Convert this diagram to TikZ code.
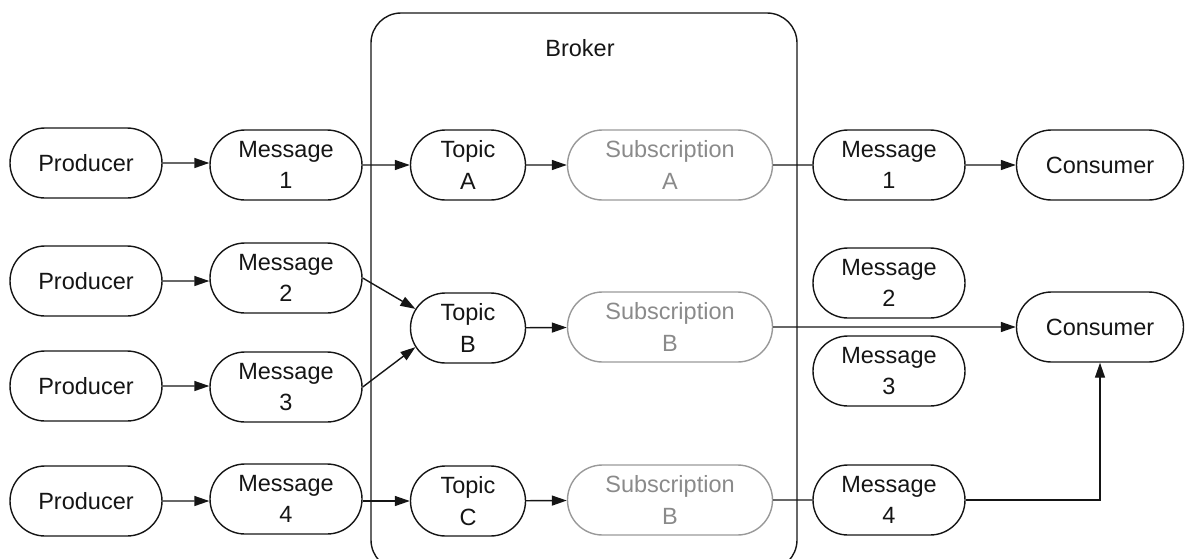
\documentclass[tikz,border=0pt]{standalone}
\usepackage{fontspec}
\setmainfont{Liberation Sans}
\usetikzlibrary{arrows.meta,shapes.misc}
\definecolor{subgray}{HTML}{8A8A8A}
\definecolor{subedge}{HTML}{999999}
\definecolor{ink}{HTML}{151515}
\begin{document}
\begin{tikzpicture}[x=1pt,y=-1pt,
  pill/.style={rounded rectangle, draw=ink, line width=1.4pt, minimum height=70pt, inner sep=0pt,
    align=center, text=ink, font=\fontsize{23.5}{31.5}\selectfont},
  prod/.style={pill, minimum width=152pt},
  msg/.style={pill, minimum width=152pt},
  topic/.style={pill, minimum width=115pt},
  subs/.style={pill, minimum width=205pt, draw=subedge, text=subgray},
  cons/.style={pill, minimum width=167pt},
  arr/.style={draw=ink, line width=1.4pt, -{Triangle[length=15pt,width=10pt]}},
  ln/.style={draw=ink, line width=1.4pt}]
\useasboundingbox (0,0) rectangle (1187,558);
% broker box
\draw[ink, line width=1.4pt, rounded corners=30pt] (371,13) rectangle (797,570);
\node[text=ink, font=\fontsize{23.5}{31.5}\selectfont] (broker) at (580,48) {Broker};
% row 1
\node[prod] (p1) at (86,163) {Producer};
\node[msg] (m1) at (286,165) {Message\\1};
\node[topic] (ta) at (468,165) {Topic\\A};
\node[subs] (sa) at (670,165) {Subscription\\A};
\node[msg] (m1r) at (889,165) {Message\\1};
\node[cons] (c1) at (1100,165) {Consumer};
% row 2/3
\node[prod] (p2) at (86,281) {Producer};
\node[msg] (m2) at (286,278) {Message\\2};
\node[topic] (tb) at (468,328) {Topic\\B};
\node[subs] (sb) at (670,327) {Subscription\\B};
\node[msg] (m2r) at (889,283) {Message\\2};
\node[cons] (c2) at (1100,327) {Consumer};
\node[msg] (m3r) at (889,371) {Message\\3};
\node[prod] (p3) at (86,386) {Producer};
\node[msg] (m3) at (286,387) {Message\\3};
% row 4
\node[prod] (p4) at (86,501) {Producer};
\node[msg] (m4) at (286,499) {Message\\4};
\node[topic] (tc) at (468,501) {Topic\\C};
\node[subs] (sc) at (670,500) {Subscription\\B};
\node[msg] (m4r) at (889,500) {Message\\4};
% connectors
\draw[arr] (p1) -- (m1.west |- p1);
\draw[arr] (m1) -- (ta);
\draw[arr] (ta) -- (sa);
\draw[ln] (sa) -- (m1r);
\draw[arr] (m1r) -- (c1);
\draw[arr] (p2) -- (m2.west |- p2);
\draw[arr] (p3) -- (m3.west |- p3);
\draw[arr] (m2.east) -- (tb.160);
\draw[arr] (m3.east) -- (tb.200);
\draw[arr] (tb) -- (sb);
\draw[arr] (sb) -- (c2);
\draw[arr] (p4) -- (m4.west |- p4);
\draw[arr] (m4.east |- tc) -- (tc);
\draw[arr] (tc) -- (sc);
\draw[ln] (sc) -- (m4r);
\draw[arr] (m4r.east) -| (c2.south);
\end{tikzpicture}
\end{document}
